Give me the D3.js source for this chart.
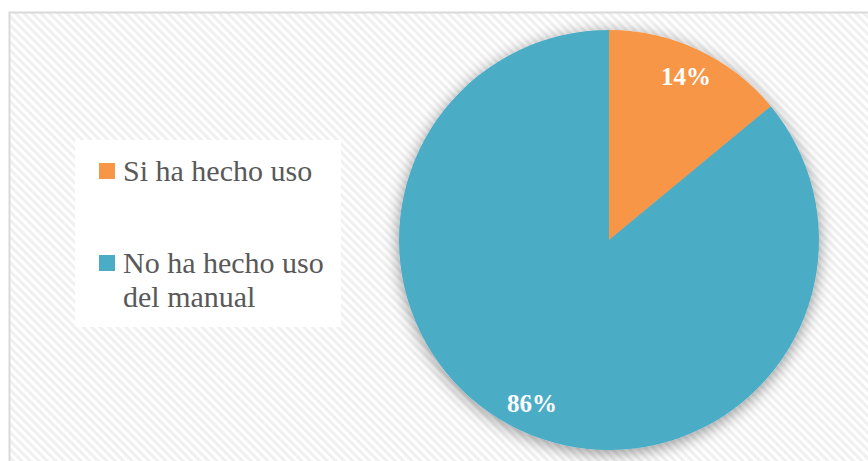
<!DOCTYPE html>
<html>
<head>
<meta charset="utf-8">
<script src="https://cdn.jsdelivr.net/npm/d3@7"></script>
<style>
  html, body { margin: 0; padding: 0; background: #ffffff; }
  svg { display: block; }
</style>
</head>
<body>
<svg id="chart" width="868" height="461"></svg>
<script>
// Survey answers: use of the manual
const categories = ["Si ha hecho uso", "No ha hecho uso del manual"];
const legendLines = [["Si ha hecho uso"], ["No ha hecho uso", "del manual"]];
const values = [14, 86];
const labels = ["14%", "86%"];
const colors = ["#F79646", "#4BACC6"];

const svg = d3.select("#chart");
const W = 868, H = 461;

const defs = svg.append("defs");

// diagonal hatch for the chart area
const pat = defs.append("pattern")
  .attr("id", "hatch")
  .attr("patternUnits", "userSpaceOnUse")
  .attr("width", 6).attr("height", 6)
  .attr("patternTransform", "rotate(-45)");
pat.append("rect").attr("width", 6).attr("height", 6).attr("fill", "#ffffff");
pat.append("rect").attr("width", 3).attr("height", 6).attr("fill", "#f0f0f0");

// soft shadow round the pie
const f = defs.append("filter").attr("id", "shadow")
  .attr("x", "-20%").attr("y", "-20%").attr("width", "140%").attr("height", "140%");
f.append("feDropShadow")
  .attr("dx", 0).attr("dy", 3)
  .attr("stdDeviation", 8)
  .attr("flood-color", "#000000")
  .attr("flood-opacity", 0.42);

// chart area with border
svg.append("rect")
  .attr("x", 9.5).attr("y", 12.5)
  .attr("width", W + 10).attr("height", H + 10)
  .attr("fill", "url(#hatch)")
  .attr("stroke", "#d9d9d9")
  .attr("stroke-width", 2);

// pie
const cx = 609, cy = 240, R = 210;
const pie = d3.pie().sort(null).value(d => d)(values);
const arc = d3.arc().innerRadius(0).outerRadius(R);
const labelArc = d3.arc().innerRadius(R * 0.86).outerRadius(R * 0.86);

const g = svg.append("g").attr("transform", `translate(${cx},${cy})`);
g.append("g").attr("filter", "url(#shadow)")
  .selectAll("path")
  .data(pie)
  .join("path")
  .attr("d", arc)
  .attr("fill", (d, i) => colors[i]);

g.selectAll("text.lbl")
  .data(pie)
  .join("text")
  .attr("class", "lbl")
  .attr("transform", d => `translate(${labelArc.centroid(d)})`)
  .attr("text-anchor", "middle")
  .attr("dy", "0.35em")
  .attr("font-family", "'Liberation Serif', 'DejaVu Serif', serif")
  .attr("font-weight", "bold")
  .attr("font-size", 25)
  .attr("fill", "#ffffff")
  .text((d, i) => labels[i]);

// legend
const legend = svg.append("g");
legend.append("rect")
  .attr("x", 75).attr("y", 140)
  .attr("width", 266).attr("height", 187)
  .attr("fill", "#ffffff");

const legendY = [181, 273];
const items = legend.selectAll("g.item")
  .data(categories)
  .join("g")
  .attr("class", "item");

items.append("rect")
  .attr("x", 99)
  .attr("y", (d, i) => legendY[i] - 18)
  .attr("width", 16).attr("height", 16)
  .attr("fill", (d, i) => colors[i]);

items.append("text")
  .attr("x", 123)
  .attr("y", (d, i) => legendY[i])
  .attr("font-family", "'Liberation Serif', 'DejaVu Serif', serif")
  .attr("font-size", 30)
  .attr("fill", "#595959")
  .selectAll("tspan")
  .data((d, i) => legendLines[i])
  .join("tspan")
  .attr("x", 123)
  .attr("dy", (t, j) => j === 0 ? 0 : 33.5)
  .text(t => t);
</script>
</body>
</html>
